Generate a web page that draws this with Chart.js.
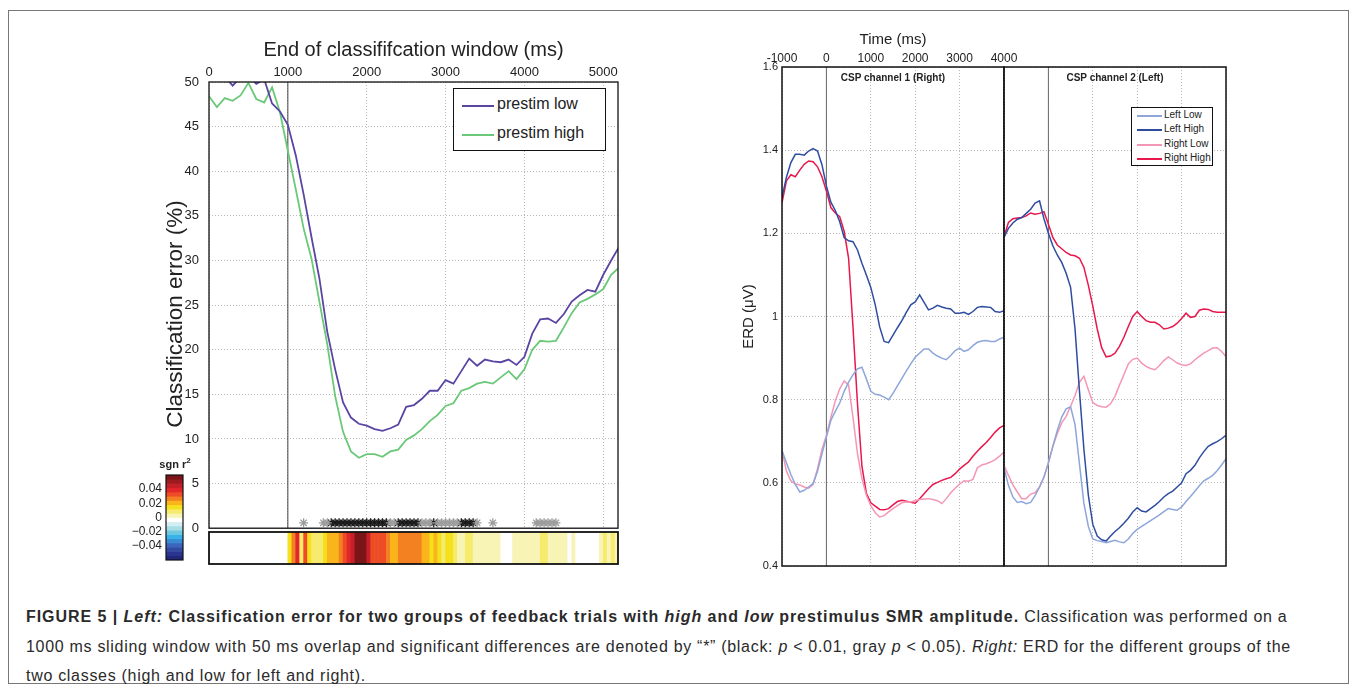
<!DOCTYPE html>
<html>
<head>
<meta charset="utf-8">
<script src="https://cdn.jsdelivr.net/npm/chart.js@4.4.1/dist/chart.umd.min.js"></script>
<style>
  body { margin:0; background:#fff; width:1356px; height:687px; position:relative; overflow:hidden;
         font-family:"Liberation Sans", Arial, Helvetica, sans-serif; color:#222; }
  .frame { position:absolute; left:8px; top:10px; width:1341px; height:674px; border:1px solid #777; box-sizing:border-box; }
  canvas { position:absolute; }
  .legend { position:absolute; background:#fff; border:1px solid #111; box-sizing:border-box; }
  .legend .item { position:absolute; white-space:nowrap; }
  .legend .sw { position:absolute; height:0; }
  .ptitle { position:absolute; font-weight:bold; font-size:10px; white-space:nowrap; transform:translateX(-50%); }
  #errYLabel { position:absolute; left:175px; top:314px; transform:translate(-50%,-50%) rotate(-90deg); font-size:22.5px; white-space:nowrap; }
  #cbarLabel { position:absolute; left:175px; top:456px; transform:translateX(-50%); font-weight:bold; font-size:11px; }
  #caption { position:absolute; left:26px; top:602px; width:1320px; font-size:16px; letter-spacing:0.7px; line-height:29.5px; color:#2a2a2a; white-space:nowrap; }
  #caption b { letter-spacing:0.95px; }
</style>
</head>
<body>
<div class="frame"></div>

<canvas id="errChart" width="510" height="518" style="left:120px;top:28px"></canvas>
<canvas id="stripChart" width="510" height="60" style="left:120px;top:520px"></canvas>
<canvas id="cbarChart" width="70" height="110" style="left:120px;top:462px"></canvas>
<div id="errYLabel">Classification error (%)</div>
<div id="cbarLabel">sgn r<sup style="font-size:8px">2</sup></div>

<div class="legend" style="left:453px;top:88px;width:153px;height:63px">
  <div class="sw" style="left:8px;top:16px;width:32px;border-top:2px solid #5b45a3"></div>
  <div class="item" style="left:43px;top:6px;font-size:16px">prestim low</div>
  <div class="sw" style="left:8px;top:45px;width:32px;border-top:2px solid #6ac878"></div>
  <div class="item" style="left:43px;top:35px;font-size:16px">prestim high</div>
</div>

<canvas id="erd1" width="310" height="566" style="left:720px;top:18px"></canvas>
<canvas id="erd2" width="246" height="566" style="left:990px;top:18px"></canvas>
<div class="ptitle" style="left:893px;top:72px">CSP channel 1 (Right)</div>
<div class="ptitle" style="left:1115px;top:72px">CSP channel 2 (Left)</div>

<div class="legend" style="left:1131px;top:107px;width:82px;height:59px">
  <div class="sw" style="left:5px;top:7px;width:25px;border-top:2px solid #8ea6da"></div>
  <div class="item" style="left:32px;top:1px;font-size:10px">Left Low</div>
  <div class="sw" style="left:5px;top:21px;width:25px;border-top:2px solid #2f4da0"></div>
  <div class="item" style="left:32px;top:15px;font-size:10px">Left High</div>
  <div class="sw" style="left:5px;top:36px;width:25px;border-top:2px solid #f497b7"></div>
  <div class="item" style="left:32px;top:30px;font-size:10px">Right Low</div>
  <div class="sw" style="left:5px;top:50px;width:25px;border-top:2px solid #e8174c"></div>
  <div class="item" style="left:32px;top:44px;font-size:10px">Right High</div>
</div>

<div id="caption"><b>FIGURE 5 | <i>Left:</i> Classification error for two groups of feedback trials with <i>high</i> and <i>low</i> prestimulus SMR amplitude.</b> Classification was performed on a<br>1000 ms sliding window with 50 ms overlap and significant differences are denoted by “*” (black: <i>p</i> &lt; 0.01, gray <i>p</i> &lt; 0.05). <i>Right:</i> ERD for the different groups of the<br>two classes (high and low for left and right).</div>

<script>
// left panel: classification error vs end of window
const windowEndMs = [0,100,200,300,400,500,600,700,800,900,1000,1100,1200,1300,1400,1500,1600,1700,1800,1900,
  2000,2100,2200,2300,2400,2500,2600,2700,2800,2900,3000,3100,3200,3300,3400,3500,3600,3700,3800,3900,
  4000,4100,4200,4300,4400,4500,4600,4700,4800,4900,5000,5100,5200];
const errLow = [51.0,50.8,50.6,49.6,50.5,50.6,49.8,50.3,47.6,46.7,45.2,41.8,37.4,32.6,28.0,22.0,17.8,14.1,12.4,11.7,
  11.5,11.1,10.9,11.2,11.6,13.6,13.8,14.5,15.4,15.4,16.6,16.2,17.6,19.0,18.2,18.9,18.7,18.6,18.9,18.3,
  19.2,21.8,23.4,23.5,23.0,24.0,25.4,26.1,26.7,26.5,28.4,30.0,31.5];
const errHigh = [48.4,47.2,48.2,47.9,48.5,49.9,48.1,47.7,49.4,46.6,42.3,38.0,33.6,30.2,25.4,20.6,14.8,10.8,8.6,7.9,
  8.3,8.3,8.0,8.6,8.8,9.9,10.4,11.1,12.0,12.7,13.7,14.0,15.4,15.7,16.2,16.4,16.2,16.9,17.6,16.7,
  17.8,20.0,21.0,20.9,21.0,22.5,24.1,25.3,25.7,26.2,26.8,28.4,29.2];
const errTicks = [0,5,10,15,20,25,30,35,40,45,50];
const windowTicks = [0,1000,2000,3000,4000,5000];
const sigGrayMs = [1200,1450,1500,2300,2350,2700,2750,2800,2900,2950,3000,3050,3100,3150,3400,3600,4150,4200,4250,4300,4350,4400];
const sigBlackMs = [1550,1600,1650,1700,1750,1800,1850,1900,1950,2000,2050,2100,2150,2200,2250,
  2400,2450,2500,2550,2600,2650,2850,3200,3250,3300,3350];

// sgn r^2 strip, 50 ms bins starting at 1000 ms
const stripStartMs = 1000;
const stripStepMs = 50;
const stripR2 = [0.015,0.027,0.039,0.009,0.033,0.015,0.009,0.009,0.009,0.015,
  0.021,0.021,0.021,0.027,0.033,0.039,0.045,0.057,0.057,0.057,
  0.045,0.033,0.033,0.033,0.033,0.027,0.021,0.021,0.027,0.027,
  0.027,0.027,0.027,0.027,0.021,0.021,0.015,0.021,0.015,0.009,
  0.015,0.015,0.009,0.003,0.003,0.009,0.009,0.003,0.003,0.003,
  0.003,0.003,0.003,0.003,0,0,0,0.003,0.003,0.003,
  0.003,0.003,0.003,0.003,0.009,0.009,0.003,0.003,0.003,0.003,
  0.003,0,0.003,0,0,0,0,0,0,0.003,
  0.009,0.003,0.009,0.003];
const cbarEdges = [0.06,0.054,0.048,0.042,0.036,0.030,0.024,0.018,0.012,0.006,0,
  -0.006,-0.012,-0.018,-0.024,-0.030,-0.036,-0.042,-0.048,-0.054,-0.06];
const cbarTicks = [0.04,0.02,0,-0.02,-0.04];
const cbarColors = ['#7b1517','#9e1a1f','#c4202a','#e2272b','#ee4c24','#f38021','#f9b51b','#f5e01e','#f6eb6c','#f8f4b6',
  '#ffffff','#d3eef3','#a7dde7','#6ec9de','#37b3e8','#3b8bd3','#3b66bb','#34499f','#2a3590','#20267a'];

// right panels: ERD
const erdMs = [-1000,-900,-800,-700,-600,-500,-400,-300,-200,-100,0,100,200,300,400,500,600,700,800,900,
  1000,1100,1200,1300,1400,1500,1600,1700,1800,1900,2000,2100,2200,2300,2400,2500,2600,2700,2800,2900,
  3000,3100,3200,3300,3400,3500,3600,3700,3800,3900,4000];
const erdTicks = [0.4,0.6,0.8,1.0,1.2,1.4,1.6];
const timeTicks = [-1000,0,1000,2000,3000,4000];

const ch1LeftLow = [0.678,0.648,0.62,0.596,0.578,0.582,0.59,0.598,0.628,0.67,0.71,0.75,0.772,0.792,0.82,0.842,0.86,0.874,0.878,0.85,
  0.82,0.813,0.811,0.806,0.8,0.815,0.833,0.851,0.869,0.886,0.902,0.912,0.922,0.922,0.912,0.905,0.9,0.896,0.906,0.918,
  0.924,0.916,0.92,0.93,0.938,0.941,0.942,0.94,0.94,0.946,0.95];
const ch1LeftHigh = [1.286,1.335,1.37,1.39,1.39,1.388,1.398,1.404,1.398,1.365,1.314,1.275,1.255,1.228,1.19,1.182,1.18,1.16,1.128,1.1,
  1.07,1.028,0.975,0.94,0.937,0.955,0.973,0.99,1.01,1.028,1.035,1.052,1.034,1.016,1.02,1.027,1.023,1.02,1.018,1.008,
  1.008,1.01,1.005,1.012,1.022,1.024,1.023,1.022,1.012,1.01,1.014];
const ch1RightLow = [0.678,0.628,0.605,0.597,0.595,0.59,0.587,0.596,0.634,0.68,0.714,0.757,0.797,0.826,0.845,0.835,0.756,0.67,0.61,0.57,
  0.545,0.528,0.518,0.521,0.53,0.538,0.545,0.552,0.554,0.554,0.557,0.56,0.561,0.562,0.56,0.557,0.55,0.562,0.576,0.587,
  0.597,0.605,0.604,0.608,0.636,0.643,0.646,0.65,0.656,0.664,0.674];
const ch1RightHigh = [1.274,1.326,1.341,1.336,1.352,1.366,1.374,1.372,1.36,1.336,1.302,1.262,1.249,1.24,1.205,1.14,0.973,0.79,0.64,0.575,
  0.552,0.544,0.536,0.535,0.538,0.547,0.555,0.558,0.556,0.553,0.551,0.562,0.574,0.586,0.596,0.601,0.606,0.61,0.613,0.622,
  0.633,0.642,0.65,0.664,0.676,0.687,0.697,0.709,0.722,0.732,0.738];

const ch2LeftLow = [0.636,0.594,0.566,0.553,0.555,0.55,0.553,0.569,0.59,0.614,0.648,0.688,0.726,0.758,0.778,0.783,0.74,0.645,0.55,0.495,
  0.465,0.461,0.459,0.456,0.459,0.462,0.458,0.456,0.465,0.478,0.488,0.495,0.502,0.509,0.516,0.523,0.531,0.538,0.536,0.534,
  0.542,0.555,0.567,0.58,0.593,0.605,0.611,0.618,0.629,0.643,0.658];
const ch2LeftHigh = [1.19,1.212,1.225,1.234,1.238,1.248,1.258,1.273,1.278,1.235,1.2,1.17,1.148,1.13,1.104,1.07,0.97,0.82,0.68,0.57,
  0.5,0.472,0.463,0.46,0.472,0.483,0.492,0.503,0.515,0.53,0.54,0.532,0.53,0.538,0.546,0.555,0.566,0.574,0.58,0.59,
  0.6,0.622,0.63,0.642,0.66,0.675,0.688,0.694,0.699,0.706,0.714];
const ch2RightLow = [0.642,0.618,0.595,0.578,0.562,0.562,0.573,0.576,0.59,0.614,0.648,0.688,0.718,0.744,0.76,0.784,0.81,0.842,0.856,0.824,
  0.793,0.786,0.783,0.782,0.79,0.808,0.835,0.86,0.886,0.897,0.9,0.888,0.88,0.875,0.872,0.882,0.894,0.903,0.896,0.888,
  0.884,0.882,0.886,0.896,0.904,0.912,0.918,0.924,0.925,0.916,0.904];
const ch2RightHigh = [1.192,1.226,1.235,1.237,1.238,1.242,1.249,1.246,1.248,1.252,1.222,1.19,1.172,1.163,1.154,1.148,1.146,1.14,1.118,1.075,
  1.025,0.97,0.925,0.903,0.905,0.912,0.928,0.95,0.976,1.0,1.012,1.0,0.99,0.986,0.986,0.98,0.97,0.972,0.976,0.984,
  0.995,1.008,0.998,1.0,1.015,1.018,1.017,1.012,1.01,1.01,1.01];

Chart.defaults.font.family = '"Liberation Sans", Arial, Helvetica, sans-serif';
Chart.defaults.color = '#222';
Chart.defaults.animation = false;

const GRID = '#b8b8b8';

// draws a closed box around the plot area, matlab style
const boxPlugin = {
  id: 'box',
  afterDatasetsDraw(chart, args, opts) {
    const a = chart.chartArea, c = chart.ctx;
    c.save();
    c.strokeStyle = '#111';
    c.lineWidth = opts.width || 1.3;
    c.strokeRect(a.left, a.top, a.right - a.left, a.bottom - a.top);
    c.restore();
  }
};

function pts(xs, ys) {
  return xs.map((x, i) => ({x: x, y: ys[i]}));
}

function fixTicks(values) {
  return function(scale) { scale.ticks = values.map(v => ({value: v})); };
}

function lineSet(label, xs, ys, color, w) {
  return {label: label, data: pts(xs, ys), borderColor: color, borderWidth: w, pointRadius: 0, tension: 0, fill: false};
}

function r2Color(v) {
  const k = Math.min(19, Math.max(0, Math.floor((0.06 - v) / 0.006 + 1e-9)));
  return cbarColors[k];
}

// ---- classification error
new Chart(document.getElementById('errChart'), {
  type: 'line',
  data: {
    datasets: [
      lineSet('prestim low', windowEndMs, errLow, '#5b45a3', 1.8),
      lineSet('prestim high', windowEndMs, errHigh, '#6ac878', 1.8),
      {label: 'onset', data: [{x: 1000, y: 0}, {x: 1000, y: 50}], borderColor: '#444', borderWidth: 1, pointRadius: 0},
      {type: 'scatter', label: 'p<0.05', data: sigGrayMs.map(x => ({x: x, y: 0.6})),
       pointStyle: 'star', pointRadius: 4.5, borderColor: '#9c9c9c', borderWidth: 1.3},
      {type: 'scatter', label: 'p<0.01', data: sigBlackMs.map(x => ({x: x, y: 0.6})),
       pointStyle: 'star', pointRadius: 4.5, borderColor: '#1a1a1a', borderWidth: 1.3}
    ]
  },
  options: {
    responsive: false,
    layout: {padding: {left: 0, top: 0, right: 12, bottom: 14}},
    plugins: {legend: {display: false}, tooltip: {enabled: false}, box: {width: 1.3}},
    scales: {
      x: {
        type: 'linear', position: 'top', min: 0, max: 5187,
        afterBuildTicks: fixTicks(windowTicks),
        afterFit: s => { s.height = 54; },
        grid: {color: GRID, drawTicks: false},
        border: {display: false, dash: [1, 2]},
        ticks: {callback: v => String(v), font: {size: 13}, padding: 2, maxRotation: 0},
        title: {display: true, text: 'End of classififcation window (ms)', font: {size: 20}, padding: {top: 10, bottom: 0}}
      },
      y: {
        min: 0, max: 50,
        afterBuildTicks: fixTicks(errTicks),
        afterFit: s => { s.width = 89; },
        grid: {color: GRID, drawTicks: false},
        border: {display: false, dash: [1, 2]},
        ticks: {font: {size: 13}, padding: 10}
      }
    }
  },
  plugins: [boxPlugin]
});

// ---- sgn r^2 strip under the error plot
new Chart(document.getElementById('stripChart'), {
  type: 'bar',
  data: {
    datasets: [{
      data: stripR2.map((v, i) => ({x: stripStartMs + stripStepMs * (i + 0.5), y: [0, 1]})),
      backgroundColor: ctx => r2Color(stripR2[ctx.dataIndex]),
      borderWidth: 0, barPercentage: 1, categoryPercentage: 1
    }]
  },
  options: {
    responsive: false,
    layout: {padding: {left: 89, top: 12, right: 12, bottom: 16}},
    plugins: {legend: {display: false}, tooltip: {enabled: false}, box: {width: 1.8}},
    scales: {
      x: {type: 'linear', min: 0, max: 5187, offset: false, display: false},
      y: {min: 0, max: 1, display: false}
    }
  },
  plugins: [boxPlugin]
});

// ---- colour bar
new Chart(document.getElementById('cbarChart'), {
  type: 'bar',
  data: {
    labels: ['r2'],
    datasets: cbarColors.map((c, i) => ({
      data: [[cbarEdges[i + 1], cbarEdges[i]]],
      backgroundColor: c, borderWidth: 0, grouped: false, barPercentage: 1, categoryPercentage: 1
    }))
  },
  options: {
    responsive: false,
    layout: {padding: {left: 0, top: 13, right: 7, bottom: 12}},
    plugins: {legend: {display: false}, tooltip: {enabled: false}, box: {width: 1.2}},
    scales: {
      x: {display: false},
      y: {
        min: -0.06, max: 0.06,
        afterBuildTicks: fixTicks(cbarTicks),
        afterFit: s => { s.width = 46; },
        grid: {display: false, drawTicks: false},
        border: {display: false},
        ticks: {font: {size: 12}, padding: 4,
                callback: v => v === 0 ? '0' : (v < 0 ? '\u2212' + Math.abs(v).toFixed(2) : v.toFixed(2))}
      }
    }
  },
  plugins: [boxPlugin]
});

// ---- ERD panels
function erdPanel(id, series, showLabels, yWidth) {
  const datasets = [
    lineSet('Left Low', erdMs, series[0], '#8ea6da', 1.5),
    lineSet('Left High', erdMs, series[1], '#2f4da0', 1.5),
    lineSet('Right Low', erdMs, series[2], '#f497b7', 1.5),
    lineSet('Right High', erdMs, series[3], '#e8174c', 1.5),
    {label: 'cue', data: [{x: 0, y: 0.4}, {x: 0, y: 1.6}], borderColor: '#666', borderWidth: 1, pointRadius: 0}
  ];
  return new Chart(document.getElementById(id), {
    type: 'line',
    data: {datasets: datasets},
    options: {
      responsive: false,
      layout: {padding: {left: 0, top: 0, right: showLabels ? 26 : 10, bottom: 18}},
      plugins: {legend: {display: false}, tooltip: {enabled: false}, box: {width: 1.5}},
      scales: {
        x: {
          type: 'linear', position: 'top', min: -1000, max: 4000,
          afterBuildTicks: fixTicks(timeTicks),
          afterFit: s => { s.height = 49; },
          grid: {color: GRID, drawTicks: false},
          border: {display: false, dash: [1, 2]},
          ticks: {display: showLabels, callback: v => String(v), font: {size: 12}, padding: 1, maxRotation: 0},
          title: {display: showLabels, text: 'Time (ms)', font: {size: 15}, padding: {top: 13, bottom: 0}}
        },
        y: {
          min: 0.4, max: 1.6,
          afterBuildTicks: fixTicks(erdTicks),
          afterFit: s => { s.width = yWidth; },
          grid: {color: GRID, drawTicks: false},
          border: {display: false, dash: [1, 2]},
          ticks: {display: showLabels, font: {size: 11}, padding: 4, callback: v => String(Math.round(v * 10) / 10)},
          title: {display: showLabels, text: 'ERD (\u03bcV)', font: {size: 15}, padding: {top: 20, bottom: 0}}
        }
      }
    },
    plugins: [boxPlugin]
  });
}

erdPanel('erd1', [ch1LeftLow, ch1LeftHigh, ch1RightLow, ch1RightHigh], true, 62);
erdPanel('erd2', [ch2LeftLow, ch2LeftHigh, ch2RightLow, ch2RightHigh], false, 14);
</script>
</body>
</html>
